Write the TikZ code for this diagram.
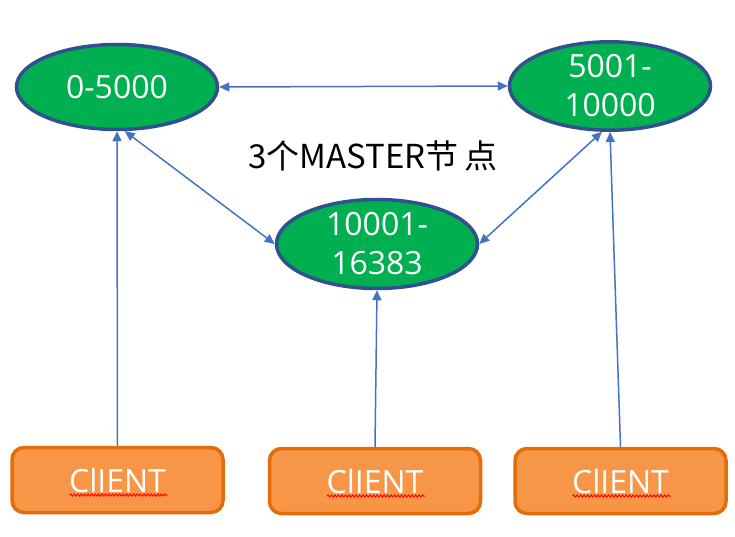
\documentclass[tikz,border=0pt]{standalone}
\usepackage{fontspec}
\setmainfont{Open Sans}
\newfontfamily\cjk{Noto Sans CJK SC}
\usepackage{xcolor}
\usetikzlibrary{arrows.meta,shapes.geometric,positioning,calc,decorations.pathmorphing}
\definecolor{SlotFill}{HTML}{00B050}
\definecolor{SlotBorder}{HTML}{2F528F}
\definecolor{ClientFill}{HTML}{F79646}
\definecolor{ClientBorder}{HTML}{E46C0A}
\definecolor{LinkColour}{HTML}{4472C4}
\tikzstyle{SlotRange}=[ellipse,fill=SlotFill,draw=SlotBorder,line width=3.5pt,minimum width=201pt,minimum height=85pt,inner sep=0pt,text=white,align=center,font=\fontsize{32}{39}\selectfont]
\tikzstyle{ClientBox}=[rectangle,rounded corners=12pt,fill=ClientFill,draw=ClientBorder,line width=3.5pt,minimum width=211pt,minimum height=65pt,text=white,font=\fontsize{32}{38}\selectfont]
\tikzstyle{Link}=[draw=LinkColour,line width=1.5pt,arrows={-Triangle[length=10pt,width=9pt]}]
\tikzstyle{TwoWayLink}=[Link,arrows={Triangle[length=10pt,width=9pt]-Triangle[length=10pt,width=9pt]}]
\tikzstyle{SpellMark}=[draw=red,line width=1pt,decorate,decoration={snake,amplitude=1pt,segment length=3.5pt}]

\begin{document}
\begin{tikzpicture}[x=1pt,y=-1pt]
  \useasboundingbox[fill=white] (0,0) rectangle (735,537);

  \node[SlotRange](SlotRangeA) at (117,87){0-5000};
  \node[SlotRange](SlotRangeB) at (610,86){5001-\\10000};
  \node[SlotRange,minimum height=89pt](SlotRangeC) at (377,244){10001-\\16383};
  \node[font=\fontsize{33}{38}\selectfont](MasterLabel) at (373,156){\cjk 3个MASTER节\,点};

  \node[ClientBox](ClientA) at (117.5,480){ClIENT};
  \node[ClientBox](ClientB) at (375,481){ClIENT};
  \node[ClientBox](ClientC) at (620.5,481){ClIENT};

  % spell check marks under the client texts
  \foreach \c in {ClientA,ClientB,ClientC}
    \draw[SpellMark] ($(\c.base)+(-48,3)$) -- ($(\c.base)+(50,3)$);

  \draw[TwoWayLink] (SlotRangeA.-80) -- (SlotRangeC.west);
  \draw[TwoWayLink] (SlotRangeB.-100) -- (SlotRangeC.east);
  \draw[TwoWayLink] (SlotRangeA.east) -- (SlotRangeB.west);

  \draw[Link] (ClientA.north) -- (SlotRangeA.south);
  \draw[Link] (ClientB.north) -- (SlotRangeC.south);
  \draw[Link] (ClientC.north) -- (SlotRangeB.south);
\end{tikzpicture}
\end{document}
